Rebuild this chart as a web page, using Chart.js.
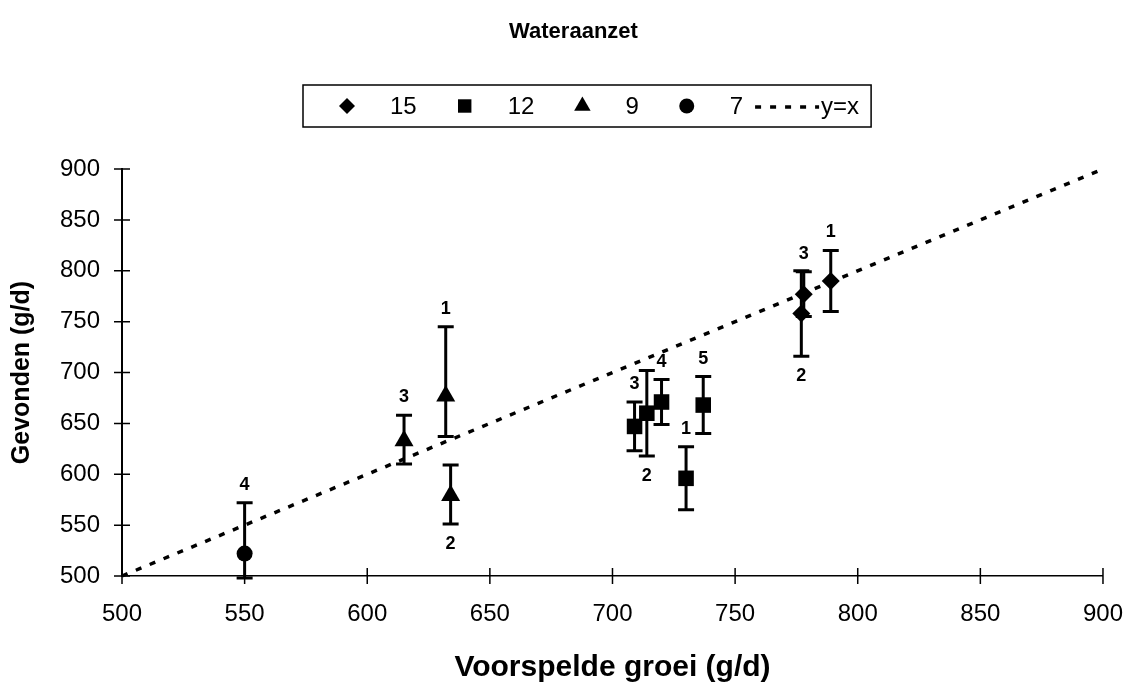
<!DOCTYPE html>
<html>
<head>
<meta charset="utf-8">
<title>Wateraanzet</title>
<script src="https://cdn.jsdelivr.net/npm/chart.js@4.4.1/dist/chart.umd.min.js"></script>
<style>
  html, body { margin: 0; padding: 0; background: #fff; }
  #wrap { width: 1147px; height: 684px; position: relative; }
</style>
</head>
<body>
<div id="wrap"><canvas id="waterChart"></canvas></div>
<script>
// values (predicted vs found, g/d)
// errUp / errDown = length of the error bar above / below the point
const s15X = [789, 778, 777];
const s15Y = [790, 777, 758];
const s15ErrUp = [30, 22, 42];
const s15ErrDown = [30, 22, 42];
const s15Tags = ["1", "3", "2"];
const s15TagPos = ["up", "up", "down"];

const s12X = [730, 714, 709, 720, 737];
const s12Y = [596, 660, 647, 671, 668];
const s12ErrUp = [31, 42, 24, 22, 28];
const s12ErrDown = [31, 42, 24, 22, 28];
const s12Tags = ["1", "2", "3", "4", "5"];
const s12TagPos = ["up", "down", "up", "up", "up"];

const s9X = [632, 634, 615];
const s9Y = [677, 579, 633];
const s9ErrUp = [68, 30, 25];
const s9ErrDown = [40, 28, 23];
const s9Tags = ["1", "2", "3"];
const s9TagPos = ["up", "down", "up"];

const s7X = [550];
const s7Y = [522];
const s7ErrUp = [50];
const s7ErrDown = [24];
const s7Tags = ["4"];
const s7TagPos = ["up"];

// reference line y = x
const refX = [500, 900];
const refY = [500, 900];

const xTickValues = [500, 550, 600, 650, 700, 750, 800, 850, 900];
const yTickValues = [500, 550, 600, 650, 700, 750, 800, 850, 900];

const FONT = "Arial, 'Liberation Sans', sans-serif";

function toPoints(xs, ys) {
  return xs.map((x, i) => ({ x: x, y: ys[i] }));
}

// error bars + the small number next to each point
const errorBarPlugin = {
  id: "errorBars",
  beforeDatasetsDraw(chart) {
    const ctx = chart.ctx;
    const yScale = chart.scales.y;
    chart.data.datasets.forEach((ds, di) => {
      if (!ds.errUp) return;
      const meta = chart.getDatasetMeta(di);
      meta.data.forEach((pt, i) => {
        const top = yScale.getPixelForValue(ds.data[i].y + ds.errUp[i]);
        const bottom = yScale.getPixelForValue(ds.data[i].y - ds.errDown[i]);
        ctx.save();
        ctx.strokeStyle = "#000";
        ctx.lineWidth = 3;
        ctx.beginPath();
        ctx.moveTo(pt.x, top);
        ctx.lineTo(pt.x, bottom);
        ctx.moveTo(pt.x - 8, top);
        ctx.lineTo(pt.x + 8, top);
        ctx.moveTo(pt.x - 8, bottom);
        ctx.lineTo(pt.x + 8, bottom);
        ctx.stroke();
        ctx.restore();
      });
    });
  },
  afterDatasetsDraw(chart) {
    const ctx = chart.ctx;
    const yScale = chart.scales.y;
    ctx.save();
    ctx.fillStyle = "#000";
    ctx.font = "bold 18px " + FONT;
    ctx.textAlign = "center";
    ctx.textBaseline = "middle";
    chart.data.datasets.forEach((ds, di) => {
      if (!ds.tags) return;
      const meta = chart.getDatasetMeta(di);
      meta.data.forEach((pt, i) => {
        let y;
        if (ds.tagPos[i] === "up") {
          y = yScale.getPixelForValue(ds.data[i].y + ds.errUp[i]) - 18;
        } else {
          y = yScale.getPixelForValue(ds.data[i].y - ds.errDown[i]) + 20;
        }
        ctx.fillText(ds.tags[i], pt.x, y);
      });
    });
    ctx.restore();
  },
};

// ticks that cross the axis lines
const crossTicksPlugin = {
  id: "crossTicks",
  afterDraw(chart) {
    const ctx = chart.ctx;
    const xs = chart.scales.x;
    const ys = chart.scales.y;
    const area = chart.chartArea;
    ctx.save();
    ctx.strokeStyle = "#000";
    ctx.lineWidth = 1.5;
    ctx.beginPath();
    xTickValues.forEach((v) => {
      const px = xs.getPixelForValue(v);
      ctx.moveTo(px, area.bottom - 8);
      ctx.lineTo(px, area.bottom + 8);
    });
    yTickValues.forEach((v) => {
      const py = ys.getPixelForValue(v);
      ctx.moveTo(area.left - 8, py);
      ctx.lineTo(area.left + 8, py);
    });
    ctx.stroke();
    ctx.restore();
  },
};

// centre the chart title on the whole canvas, not on the padded area
const centerTitlePlugin = {
  id: "centerTitle",
  afterLayout(chart) {
    if (chart.titleBlock) {
      chart.titleBlock.left = 0;
      chart.titleBlock.right = chart.width;
      chart.titleBlock.width = chart.width;
    }
  },
};

// legend inside a framed box, drawn by hand
const boxLegendPlugin = {
  id: "boxLegend",
  afterDraw(chart, args, opts) {
    const ctx = chart.ctx;
    ctx.save();
    ctx.font = "24px " + FONT;
    ctx.textBaseline = "middle";
    ctx.textAlign = "left";
    const cy = opts.top + opts.height / 2;
    let x = opts.left + 44;
    let lastEnd = x;
    chart.data.datasets.forEach((ds) => {
      ctx.fillStyle = "#000";
      ctx.strokeStyle = "#000";
      if (ds.type === "line") {
        const start = lastEnd + 12;
        ctx.save();
        ctx.lineWidth = 3.5;
        ctx.setLineDash(ds.borderDash);
        ctx.beginPath();
        ctx.moveTo(start, cy + 1);
        ctx.lineTo(start + 64, cy + 1);
        ctx.stroke();
        ctx.restore();
        const tx = start + 66;
        ctx.fillText(ds.label, tx, cy + 1);
        lastEnd = tx + ctx.measureText(ds.label).width;
      } else {
        Chart.helpers.drawPoint(ctx, {
          pointStyle: ds.pointStyle,
          radius: ds.legendRadius,
          rotation: 0,
          borderWidth: 0,
        }, x, cy);
        const tx = x + 43;
        ctx.fillText(ds.label, tx, cy + 1);
        lastEnd = tx + ctx.measureText(ds.label).width;
        x = lastEnd + 48;
      }
    });
    ctx.lineWidth = 1.5;
    ctx.strokeRect(opts.left, opts.top, lastEnd + 12 - opts.left, opts.height);
    ctx.restore();
  },
};

const markerDefaults = {
  backgroundColor: "#000",
  borderColor: "#000",
  borderWidth: 0,
  showLine: false,
  clip: false,
};

const ctx = document.getElementById("waterChart").getContext("2d");
new Chart(ctx, {
  type: "scatter",
  data: {
    datasets: [
      Object.assign({}, markerDefaults, {
        label: "15",
        data: toPoints(s15X, s15Y),
        errUp: s15ErrUp, errDown: s15ErrDown, tags: s15Tags, tagPos: s15TagPos,
        pointStyle: "rectRot", pointRadius: 9, legendRadius: 8,
      }),
      Object.assign({}, markerDefaults, {
        label: "12",
        data: toPoints(s12X, s12Y),
        errUp: s12ErrUp, errDown: s12ErrDown, tags: s12Tags, tagPos: s12TagPos,
        pointStyle: "rect", pointRadius: 11, legendRadius: 9.5,
      }),
      Object.assign({}, markerDefaults, {
        label: "9",
        data: toPoints(s9X, s9Y),
        errUp: s9ErrUp, errDown: s9ErrDown, tags: s9Tags, tagPos: s9TagPos,
        pointStyle: "triangle", pointRadius: 11, legendRadius: 9.5,
      }),
      Object.assign({}, markerDefaults, {
        label: "7",
        data: toPoints(s7X, s7Y),
        errUp: s7ErrUp, errDown: s7ErrDown, tags: s7Tags, tagPos: s7TagPos,
        pointStyle: "circle", pointRadius: 8, legendRadius: 7.5,
      }),
      {
        type: "line",
        label: "y=x",
        data: toPoints(refX, refY),
        borderColor: "#000",
        borderWidth: 3.5,
        borderDash: [6, 9],
        pointRadius: 0,
        fill: false,
        clip: false,
      },
    ],
  },
  options: {
    responsive: true,
    maintainAspectRatio: false,
    animation: false,
    layout: { padding: { left: 0, right: 32, top: 0, bottom: 0 } },
    plugins: {
      legend: { display: false },
      tooltip: { enabled: false },
      title: {
        display: true,
        text: "Wateraanzet",
        color: "#000",
        font: { family: FONT, size: 22, weight: "bold", lineHeight: 1.2 },
        padding: { top: 19, bottom: 123.6 },
      },
      boxLegend: { left: 303, top: 85, height: 42 },
    },
    scales: {
      x: {
        type: "linear",
        min: 500,
        max: 900,
        afterBuildTicks: (scale) => {
          scale.ticks = xTickValues.map((v) => ({ value: v }));
        },
        afterFit: (scale) => { scale.height = 108; },
        grid: { drawOnChartArea: false, drawTicks: false },
        border: { display: true, color: "#000", width: 1.5 },
        ticks: { color: "#000", padding: 24, font: { family: FONT, size: 24 } },
        title: {
          display: true,
          text: "Voorspelde groei (g/d)",
          color: "#000",
          font: { family: FONT, size: 30, weight: "bold", lineHeight: 1 },
          padding: { top: 0, bottom: 1 },
        },
      },
      y: {
        type: "linear",
        min: 500,
        max: 900,
        afterBuildTicks: (scale) => {
          scale.ticks = yTickValues.map((v) => ({ value: v }));
        },
        afterFit: (scale) => { scale.width = 122; },
        grid: { drawOnChartArea: false, drawTicks: false },
        border: { display: true, color: "#000", width: 2 },
        ticks: { color: "#000", padding: 22, font: { family: FONT, size: 24 } },
        title: {
          display: true,
          text: "Gevonden (g/d)",
          color: "#000",
          font: { family: FONT, size: 25, weight: "bold", lineHeight: 1.2 },
          padding: { top: 7, bottom: 0 },
        },
      },
    },
  },
  plugins: [centerTitlePlugin, errorBarPlugin, crossTicksPlugin, boxLegendPlugin],
});
</script>
</body>
</html>
